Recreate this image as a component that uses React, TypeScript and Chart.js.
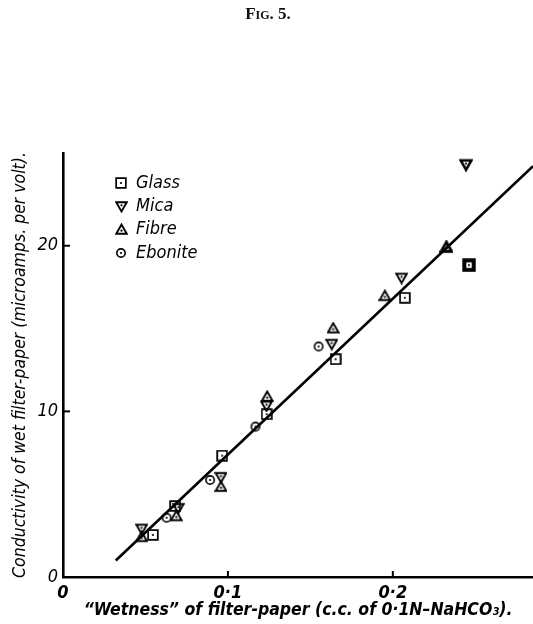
import React, { useEffect, useRef } from 'react';
import { Chart, registerables } from 'chart.js';
Chart.register(...registerables);

// ---- data ----
const figTitle = 'Fig. 5.';
const xTitle = '“Wetness” of filter-paper (c.c. of 0·1N–NaHCO₃).';
const yTitle = 'Conductivity of wet filter-paper (microamps. per volt).';

const xTickValues = [0, 0.1, 0.2];
const xTickLabels = ['0', '0·1', '0·2'];
const yTickValues = [0, 10, 20];
const yTickLabels = ['0', '10', '20'];

const seriesNames = ['Glass', 'Mica', 'Fibre', 'Ebonite'];

const glassX = [0.0545, 0.068, 0.0965, 0.1235, 0.1653, 0.2073, 0.2462];
const glassY = [2.54, 4.29, 7.33, 9.83, 13.15, 16.86, 18.83];

const micaX = [0.0477, 0.0699, 0.0958, 0.1234, 0.163, 0.2053, 0.2444];
const micaY = [2.9, 4.15, 6.02, 10.33, 14.06, 18.05, 24.9];

const fibreX = [0.0477, 0.0687, 0.0958, 0.1238, 0.1638, 0.1952, 0.2325];
const fibreY = [2.43, 3.69, 5.46, 10.9, 15.03, 16.98, 19.92];

const eboniteX = [0.0628, 0.0892, 0.1167, 0.155];
const eboniteY = [3.58, 5.86, 9.08, 13.92];

const fitX = [0.032, 0.285];
const fitY = [1.0, 24.8];

const X_MAX = 0.285;
const Y_MAX = 25.6;

// style constants
const FONT = "'DejaVu Sans Condensed', 'DejaVu Sans', sans-serif";
const glassBoldIndex = 6;

function makeSymbol(kind: string, size: number, lw: number): HTMLCanvasElement {
  const c = document.createElement('canvas');
  c.width = size;
  c.height = size;
  const g = c.getContext('2d')!;
  g.strokeStyle = '#000';
  g.fillStyle = '#000';
  g.lineWidth = lw;
  g.lineJoin = 'miter';
  const m = size / 2;
  const r = size / 2 - lw / 2 - 0.3;
  let dotY = m;
  g.beginPath();
  if (kind === 'square') {
    g.rect(m - r, m - r, 2 * r, 2 * r);
  } else if (kind === 'down') {
    g.moveTo(m - r, m - r * 0.8);
    g.lineTo(m + r, m - r * 0.8);
    g.lineTo(m, m + r * 0.95);
    g.closePath();
    dotY = m - r * 0.22;
  } else if (kind === 'up') {
    g.moveTo(m - r, m + r * 0.8);
    g.lineTo(m + r, m + r * 0.8);
    g.lineTo(m, m - r * 0.95);
    g.closePath();
    dotY = m + r * 0.22;
  } else {
    g.arc(m, m, r * 0.85, 0, Math.PI * 2);
  }
  g.stroke();
  g.beginPath();
  g.arc(m, dotY, 1.1, 0, Math.PI * 2);
  g.fill();
  return c;
}

export default function App() {
  const ref = useRef<HTMLCanvasElement | null>(null);

  useEffect(() => {
    document.body.style.margin = '0';
    const canvas = ref.current!;
    const symSquare = makeSymbol('square', 12, 1.7);
    const symSquareBold = makeSymbol('square', 14, 4);
    const symDown = makeSymbol('down', 13, 1.9);
    const symDownBold = makeSymbol('down', 14, 2.6);
    const symUp = makeSymbol('up', 13, 1.9);
    const symUpBold = makeSymbol('up', 14, 2.8);
    const symCircle = makeSymbol('circle', 12, 1.6);
    const legendSyms = [symSquare, symDown, symUp, symCircle];

    const pts = (xs: number[], ys: number[]) => xs.map((x, i) => ({ x, y: ys[i] }));

    const titlePlugin = {
      id: 'figTitle',
      afterDraw(chart: any) {
        const ctx = chart.ctx;
        ctx.save();
        ctx.fillStyle = '#111';
        ctx.font = "small-caps bold 17px 'Liberation Serif', serif";
        ctx.textAlign = 'center';
        ctx.textBaseline = 'middle';
        ctx.fillText(figTitle, 268, 15);
        ctx.restore();
      },
    };

    const tickPlugin = {
      id: 'innerTicks',
      afterDraw(chart: any) {
        const ctx = chart.ctx;
        const xs = chart.scales.x;
        const ys = chart.scales.y;
        const ca = chart.chartArea;
        ctx.save();
        ctx.strokeStyle = '#000';
        ctx.lineWidth = 2;
        xTickValues.forEach((v) => {
          if (v === 0) return;
          const px = xs.getPixelForValue(v);
          ctx.beginPath();
          ctx.moveTo(px, ca.bottom);
          ctx.lineTo(px, ca.bottom - 6);
          ctx.stroke();
        });
        yTickValues.forEach((v) => {
          if (v === 0) return;
          const py = ys.getPixelForValue(v);
          ctx.beginPath();
          ctx.moveTo(ca.left, py);
          ctx.lineTo(ca.left + 7, py);
          ctx.stroke();
        });
        ctx.restore();
      },
    };

    const legendPlugin = {
      id: 'symLegend',
      afterDraw(chart: any) {
        const ctx = chart.ctx;
        ctx.save();
        ctx.fillStyle = '#000';
        ctx.font = `italic 18px ${FONT}`;
        ctx.textAlign = 'left';
        ctx.textBaseline = 'middle';
        seriesNames.forEach((name, i) => {
          const cy = 183 + i * 23.3;
          const s = legendSyms[i];
          ctx.drawImage(s, Math.round(121 - s.width / 2), Math.round(cy - s.height / 2));
          ctx.fillText(name, 136, cy);
        });
        ctx.restore();
      },
    };

    const chart = new Chart(canvas, {
      type: 'scatter',
      data: {
        datasets: [
          {
            label: seriesNames[0],
            data: pts(glassX, glassY),
            pointStyle: (c: any) => (c.dataIndex === glassBoldIndex ? symSquareBold : symSquare),
            pointRadius: 6,
            order: 1,
          },
          {
            label: seriesNames[1],
            data: pts(micaX, micaY),
            pointStyle: (c: any) => (c.dataIndex >= micaX.length - 1 ? symDownBold : symDown),
            pointRadius: 6,
            order: 2,
          },
          {
            label: seriesNames[2],
            data: pts(fibreX, fibreY),
            pointStyle: (c: any) => (c.dataIndex >= fibreX.length - 1 ? symUpBold : symUp),
            pointRadius: 6,
            order: 3,
          },
          {
            label: seriesNames[3],
            data: pts(eboniteX, eboniteY),
            pointStyle: symCircle,
            pointRadius: 5,
            order: 4,
          },
          {
            label: 'fit',
            data: pts(fitX, fitY),
            showLine: true,
            borderColor: '#000',
            borderWidth: 2.6,
            pointRadius: 0,
            order: 10,
          },
        ] as any,
      },
      options: {
        animation: false,
        responsive: false,
        maintainAspectRatio: false,
        devicePixelRatio: 1,
        layout: { autoPadding: false, padding: { top: 153, right: 0, bottom: 0, left: 0 } },
        plugins: {
          legend: { display: false },
          tooltip: { enabled: false },
          title: { display: false },
        },
        scales: {
          x: {
            type: 'linear',
            min: 0,
            max: X_MAX,
            afterBuildTicks: (s: any) => {
              s.ticks = xTickValues.map((v) => ({ value: v }));
            },
            afterFit: (s: any) => {
              s.height = 47;
              s.paddingLeft = 0;
              s.paddingRight = 0;
            },
            grid: { display: false, drawTicks: false },
            border: { display: true, color: '#000', width: 2.6 },
            ticks: {
              color: '#000',
              padding: 6,
              maxRotation: 0,
              autoSkip: false,
              font: { family: FONT, size: 18, style: 'italic', weight: 'bold' },
              callback: (v: any) => xTickLabels[xTickValues.indexOf(Number(v))] ?? '',
            },
            title: {
              display: true,
              text: xTitle,
              color: '#000',
              font: { family: FONT, size: 17.5, style: 'italic', weight: 'bold' },
              padding: { top: 0, bottom: 3 },
            },
          },
          y: {
            type: 'linear',
            min: 0,
            max: Y_MAX,
            afterBuildTicks: (s: any) => {
              s.ticks = yTickValues.map((v) => ({ value: v }));
            },
            afterFit: (s: any) => {
              s.width = 63;
              s.paddingTop = 0;
              s.paddingBottom = 0;
            },
            grid: { display: false, drawTicks: false },
            border: { display: true, color: '#000', width: 2.6 },
            ticks: {
              color: '#000',
              padding: 5,
              autoSkip: false,
              font: { family: FONT, size: 18, style: 'italic' },
              callback: (v: any) => yTickLabels[yTickValues.indexOf(Number(v))] ?? '',
            },
            title: {
              display: true,
              text: yTitle,
              color: '#000',
              font: { family: FONT, size: 17.5, style: 'italic' },
              padding: { top: 10, bottom: 0 },
            },
          },
        },
      } as any,
      plugins: [titlePlugin, tickPlugin, legendPlugin],
    });

    return () => chart.destroy();
  }, []);

  return <canvas ref={ref} width={533} height={624} style={{ display: 'block' }} />;
}
